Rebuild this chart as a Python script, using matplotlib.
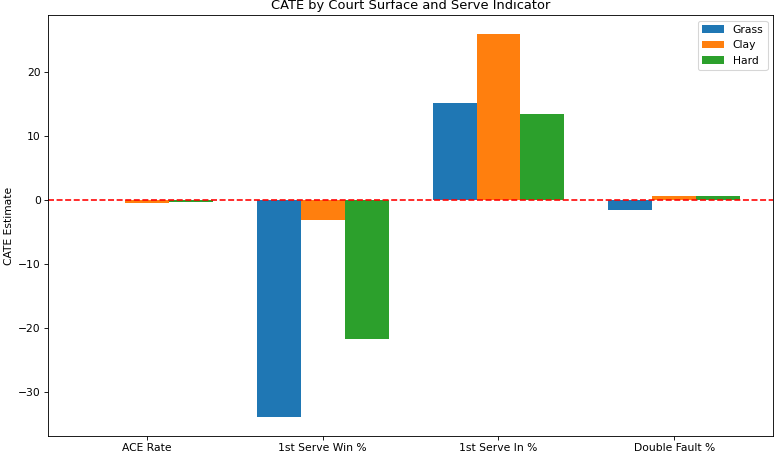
import matplotlib
matplotlib.use("Agg")
import matplotlib.pyplot as plt
import numpy as np

indicators = ["ACE Rate", "1st Serve Win %", "1st Serve In %", "Double Fault %"]
surfaces = ["Grass", "Clay", "Hard"]
grass = [0.05, -33.8, 15.1, -1.6]
clay = [-0.5, -3.2, 25.8, 0.6]
hard = [-0.4, -21.7, 13.4, 0.6]
series = [grass, clay, hard]

W, H = 777, 454
fig, ax = plt.subplots(figsize=(10, H / 77.7), dpi=77.7)
x = np.arange(len(indicators))
width = 0.25
for i, (name, vals) in enumerate(zip(surfaces, series)):
    ax.bar(x + (i - 1) * width, vals, width, label=name)
ax.axhline(0, color="red", linestyle="--")
ax.set_xticks(x)
ax.set_xticklabels(indicators)
ax.set_ylabel("CATE Estimate")
ax.set_title("CATE by Court Surface and Serve Indicator")
ax.legend(loc="upper right")
fig.subplots_adjust(left=48.3 / W, right=773 / W, top=1 - 15.3 / H, bottom=1 - 435.7 / H)
fig.savefig("out.png", dpi=77.7)
